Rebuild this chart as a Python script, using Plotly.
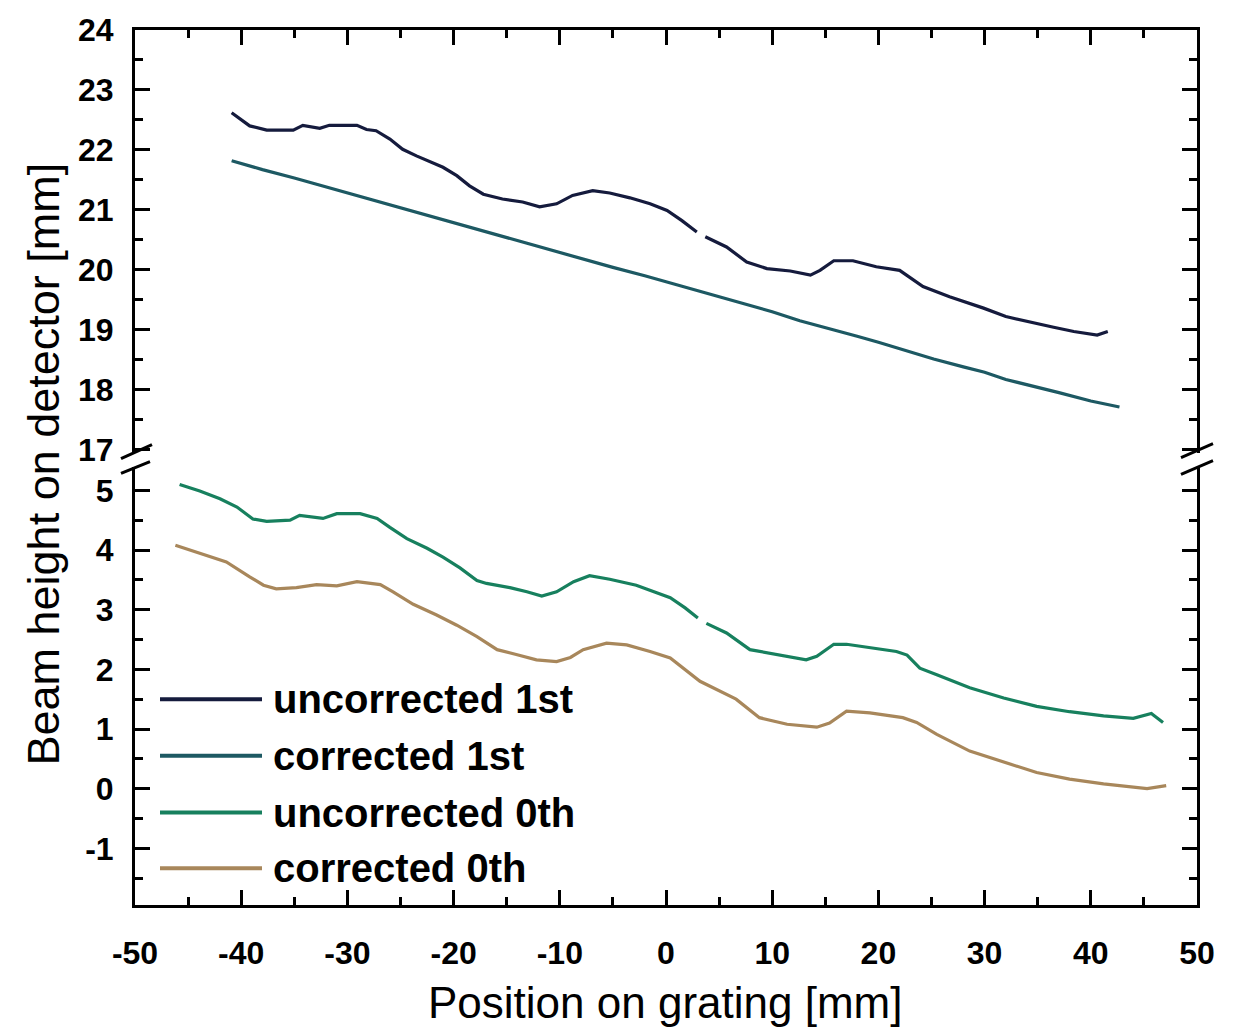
import plotly.graph_objects as go

# ---- measured beam heights (position on grating [mm] -> height on detector [mm]) ----
unc1_x = [-40.9, -40.0, -39.2, -37.6, -35.1, -34.2, -32.6, -31.7, -29.1, -28.2, -27.3, -26.0,
          -24.8, -23.5, -21.0, -19.7, -18.5, -17.2, -15.4, -13.5, -11.9, -10.3, -8.8, -6.9,
          -5.3, -3.4, -1.5, 0.1, 1.5, 2.9, 3.3, 3.7, 5.7, 7.6, 9.5, 11.7, 13.6, 14.5, 15.8,
          17.6, 19.8, 22.0, 23.3, 24.2, 26.7, 29.9, 32.0, 34.6, 36.5, 38.4, 40.6, 41.6]
unc1_y = [22.62, 22.50, 22.40, 22.33, 22.33, 22.41, 22.36, 22.41, 22.41, 22.34, 22.32, 22.18,
          22.01, 21.90, 21.71, 21.57, 21.40, 21.26, 21.18, 21.13, 21.05, 21.10, 21.24, 21.32,
          21.28, 21.20, 21.10, 20.99, 20.82, 20.63, None, 20.55, 20.38, 20.13, 20.02, 19.98,
          19.91, 19.99, 20.15, 20.15, 20.05, 19.99, 19.83, 19.72, 19.55, 19.36, 19.22, 19.11,
          19.04, 18.97, 18.91, 18.97]

cor1_x = [-40.9, -38.0, -35.0, -32.0, -30.0, -27.0, -25.0, -22.0, -20.0, -17.0, -15.0, -12.0,
          -10.0, -7.0, -5.0, -2.0, 0.0, 3.0, 5.0, 8.0, 10.0, 12.6, 15.0, 18.0, 20.0, 22.5,
          25.2, 28.0, 30.0, 32.0, 34.6, 37.0, 40.0, 41.5, 42.7]
cor1_y = [21.82, 21.67, 21.53, 21.38, 21.28, 21.13, 21.03, 20.88, 20.78, 20.63, 20.53, 20.39,
          20.29, 20.14, 20.04, 19.90, 19.80, 19.64, 19.55, 19.40, 19.30, 19.15, 19.04, 18.89,
          18.79, 18.66, 18.51, 18.38, 18.29, 18.17, 18.06, 17.95, 17.81, 17.76, 17.71]

unc0_x = [-45.8, -43.9, -42.0, -40.4, -38.9, -37.6, -35.4, -34.5, -32.3, -31.0, -28.8, -27.2,
          -26.0, -24.4, -22.5, -21.0, -19.4, -17.8, -16.9, -14.7, -13.1, -11.7, -10.3, -8.7,
          -7.2, -5.3, -2.8, -0.6, 0.4, 1.8, 3.0, 3.4, 3.8, 5.7, 7.9, 9.8, 11.7, 13.2, 14.2,
          15.8, 17.0, 19.2, 21.7, 22.7, 23.9, 25.5, 28.6, 31.8, 34.9, 38.0, 41.2, 44.0, 45.7,
          46.8]
unc0_y = [5.10, 4.99, 4.86, 4.72, 4.52, 4.48, 4.50, 4.58, 4.53, 4.61, 4.61, 4.53,
          4.38, 4.19, 4.03, 3.88, 3.70, 3.49, 3.44, 3.37, 3.30, 3.23, 3.30, 3.47,
          3.57, 3.51, 3.41, 3.27, 3.20, 3.03, 2.86, None, 2.77, 2.61, 2.33, 2.27, 2.22, 2.16,
          2.22, 2.42, 2.42, 2.36, 2.30, 2.24, 2.02, 1.91, 1.69, 1.52, 1.38, 1.29, 1.22, 1.18,
          1.26, 1.11]

cor0_x = [-46.2, -43.9, -41.4, -39.2, -37.9, -36.7, -34.8, -32.9, -31.0, -29.1, -26.9, -25.7,
          -23.8, -21.6, -19.7, -17.8, -15.9, -14.1, -12.2, -10.3, -9.0, -7.8, -5.6, -3.7,
          -1.5, 0.4, 3.2, 6.6, 8.8, 11.4, 14.2, 15.4, 17.0, 19.2, 22.3, 23.6, 25.5, 28.6,
          31.8, 34.9, 38.0, 41.2, 45.3, 47.1]
cor0_y = [4.08, 3.94, 3.80, 3.55, 3.41, 3.35, 3.37, 3.42, 3.40, 3.47, 3.42, 3.30,
          3.09, 2.91, 2.74, 2.55, 2.33, 2.25, 2.16, 2.13, 2.20, 2.33, 2.44, 2.41,
          2.30, 2.19, 1.80, 1.50, 1.19, 1.08, 1.03, 1.10, 1.30, 1.27, 1.19, 1.11, 0.91, 0.63,
          0.44, 0.27, 0.16, 0.08, 0.00, 0.05]

series_names = ["uncorrected 1st", "corrected 1st", "uncorrected 0th", "corrected 0th"]
series_colors = ["#151b3d", "#1d5963", "#17805e", "#a8875b"]

x_ticks = [-50, -40, -30, -20, -10, 0, 10, 20, 30, 40, 50]
x_tick_text = ["-50", "-40", "-30", "-20", "-10", "0", "10", "20", "30", "40", "50"]
y_ticks_upper = [17, 18, 19, 20, 21, 22, 23, 24]
y_tick_text_upper = ["17", "18", "19", "20", "21", "22", "23", "24"]
y_ticks_lower = [-1, 0, 1, 2, 3, 4, 5]
y_tick_text_lower = ["-1", "0", "1", "2", "3", "4", "5"]

# ---- page geometry ----
FIG_W, FIG_H = 1237, 1028
ML, MR, MT, MB = 135, 40, 25, 123
PW, PH = FIG_W - ML - MR, FIG_H - MT - MB
Y_BOTTOM = FIG_H - MB


def paper(px, py):
    return (px - ML) / PW, (Y_BOTTOM - py) / PH


FONT = "Arial, Liberation Sans, Helvetica, sans-serif"
tick_font = dict(family=FONT, size=32, color="black", weight="bold")

fig = go.Figure()
data = [(unc1_x, unc1_y, "x2", "y2"), (cor1_x, cor1_y, "x2", "y2"),
        (unc0_x, unc0_y, "x", "y"), (cor0_x, cor0_y, "x", "y")]
for (xs, ys, xa, ya), name, col in zip(data, series_names, series_colors):
    fig.add_trace(go.Scatter(x=xs, y=ys, xaxis=xa, yaxis=ya, mode="lines", name=name,
                             line=dict(color=col, width=3.2), connectgaps=False,
                             showlegend=False))

common_axis = dict(showline=True, linecolor="black", linewidth=3, ticks="inside",
                   ticklen=15, tickwidth=3, tickcolor="black", showgrid=False,
                   zeroline=False, tickfont=tick_font)


def minor(step):
    return dict(ticks="inside", ticklen=8, tickwidth=3, dtick=step, tick0=0,
                tickcolor="black")


fig.update_layout(
    width=FIG_W, height=FIG_H,
    margin=dict(l=ML, r=MR, t=MT, b=MB),
    paper_bgcolor="white", plot_bgcolor="white",
    xaxis=dict(**common_axis, range=[-50, 50], tickvals=x_ticks, ticktext=x_tick_text,
               anchor="y", domain=[0, 1], ticklabelstandoff=18, minor=minor(5)),
    xaxis2=dict(**common_axis, range=[-50, 50], tickvals=x_ticks, anchor="y2",
                side="top", matches="x", showticklabels=False, domain=[0, 1],
                minor=minor(5)),
    # lower segment of the broken height axis
    yaxis=dict(**common_axis, range=[-1.95, 5.4], tickvals=y_ticks_lower,
               ticktext=y_tick_text_lower, domain=[0, (Y_BOTTOM - 464) / PH],
               mirror="ticks", anchor="x", ticklabelstandoff=12, minor=minor(0.5)),
    # upper segment of the broken height axis
    yaxis2=dict(**common_axis, range=[16.95, 24], tickvals=y_ticks_upper,
                ticktext=y_tick_text_upper, domain=[(Y_BOTTOM - 450) / PH, 1],
                mirror="ticks", anchor="x2", ticklabelstandoff=12, minor=minor(0.5)),
)

# axis-break slashes on both sides of the frame
shapes = []
for (x0, y0, x1, y1) in [(121, 456, 152, 442), (121, 471, 150, 459),
                         (1181, 455, 1213, 441), (1181, 472, 1213, 458)]:
    a = paper(x0, y0)
    b = paper(x1, y1)
    shapes.append(dict(type="line", xref="paper", yref="paper", x0=a[0], y0=a[1],
                       x1=b[0], y1=b[1], line=dict(color="black", width=3)))

# legend: long line samples with labels
legend_rows = [698, 755, 812, 868]
annotations = []
for name, col, py in zip(series_names, series_colors, legend_rows):
    a = paper(160, py)
    b = paper(262, py)
    shapes.append(dict(type="line", xref="paper", yref="paper", x0=a[0], y0=a[1],
                       x1=b[0], y1=b[1], line=dict(color=col, width=4)))
    t = paper(271, py)
    annotations.append(dict(xref="paper", yref="paper", x=t[0], y=t[1], text=name,
                            showarrow=False, xanchor="left", yanchor="middle",
                            font=dict(family=FONT, size=40, color="black", weight="bold")))

# axis titles
xt = paper(665, 1003)
annotations.append(dict(xref="paper", yref="paper", x=xt[0], y=xt[1],
                        text="Position on grating [mm]", showarrow=False,
                        xanchor="center", yanchor="middle",
                        font=dict(family=FONT, size=44, color="black")))
yt = paper(44, 462)
annotations.append(dict(xref="paper", yref="paper", x=yt[0], y=yt[1],
                        text="Beam height on detector [mm]", showarrow=False,
                        textangle=-90, xanchor="center", yanchor="middle",
                        font=dict(family=FONT, size=45, color="black")))

fig.update_layout(shapes=shapes, annotations=annotations)
fig.write_html("out.html")
